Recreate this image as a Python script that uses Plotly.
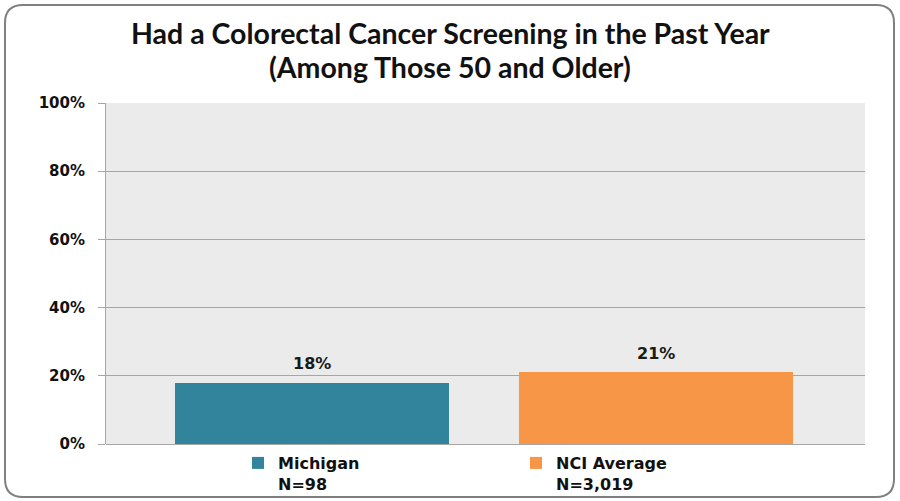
import plotly.graph_objects as go

# Survey results: share of respondents aged 50+ screened for colorectal cancer in the past year
groups = ["Michigan", "NCI Average"]
sample_sizes = ["N=98", "N=3,019"]
screened_share = [0.18, 0.21]
bar_colors = ["#31849B", "#F79646"]
y_ticks = [0, 0.2, 0.4, 0.6, 0.8, 1.0]
y_tick_labels = ["0%", "20%", "40%", "60%", "80%", "100%"]
title_lines = ["Had a Colorectal Cancer Screening in the Past Year",
               "(Among Those 50 and Older)"]

W, H = 900, 501
ML, MR, MT, MB = 106, 35, 103, 57
PW, PH = W - ML - MR, H - MT - MB


def px_x(p):
    return (p - ML) / PW


def px_y(p):
    return 1 - (p - MT) / PH


fig = go.Figure()
for i, (g, n, v, c) in enumerate(zip(groups, sample_sizes, screened_share, bar_colors)):
    fig.add_trace(go.Bar(
        x=[i], y=[v], width=0.797,
        name=f"{g}<br>{n}",
        marker=dict(color=c, line=dict(width=0)),
        hoverinfo="skip",
    ))
    fig.add_annotation(
        x=i, y=v, xref="x", yref="y",
        text=f"{v:.0%}", showarrow=False, yshift=19,
        font=dict(family="DejaVu Sans", size=16, color="#1a1a1a", weight="bold"),
    )

# two-line chart heading
for line, ypix in zip(title_lines, [33, 67]):
    fig.add_annotation(
        x=0.5 * (px_x(0) + px_x(W)), y=px_y(ypix), xref="paper", yref="paper",
        xanchor="center", yanchor="middle", showarrow=False, text=line,
        font=dict(family="Lato", size=28.5, color="#111111", weight="bold"),
    )

# rounded outer frame around the whole chart
x0, x1, y0, y1, r = 5, 894, 5, 497, 18
path = (
    f"M {px_x(x0 + r)} {px_y(y0)} L {px_x(x1 - r)} {px_y(y0)} "
    f"Q {px_x(x1)} {px_y(y0)} {px_x(x1)} {px_y(y0 + r)} "
    f"L {px_x(x1)} {px_y(y1 - r)} Q {px_x(x1)} {px_y(y1)} {px_x(x1 - r)} {px_y(y1)} "
    f"L {px_x(x0 + r)} {px_y(y1)} Q {px_x(x0)} {px_y(y1)} {px_x(x0)} {px_y(y1 - r)} "
    f"L {px_x(x0)} {px_y(y0 + r)} Q {px_x(x0)} {px_y(y0)} {px_x(x0 + r)} {px_y(y0)} Z"
)
fig.add_shape(type="path", path=path, xref="paper", yref="paper",
              line=dict(color="#808080", width=2), layer="above")

fig.update_layout(
    width=W, height=H,
    margin=dict(l=ML, r=MR, t=MT, b=MB, autoexpand=False),
    paper_bgcolor="white",
    plot_bgcolor="#EBEBEB",
    showlegend=True,
    legend=dict(
        orientation="h", x=px_x(238), xanchor="left", y=px_y(446), yanchor="top",
        entrywidth=233, entrywidthmode="pixels", valign="top",
        font=dict(family="DejaVu Sans", size=16, color="#111111", weight="bold"),
        bgcolor="rgba(0,0,0,0)", itemsizing="constant",
        traceorder="normal",
    ),
    xaxis=dict(
        range=[-0.599, 1.608], showticklabels=False, showgrid=False,
        zeroline=False, showline=False, fixedrange=True,
    ),
    yaxis=dict(
        range=[0, 1], tickvals=y_ticks, ticktext=y_tick_labels,
        showgrid=True, gridcolor="#A6A6A6", gridwidth=1,
        showline=True, linecolor="#A6A6A6", linewidth=1,
        ticks="outside", ticklen=7, tickcolor="#A6A6A6",
        ticklabelstandoff=10,
        zeroline=True, zerolinecolor="#A6A6A6", zerolinewidth=1,
        tickfont=dict(family="DejaVu Sans", size=15, color="#111111", weight="bold"),
        fixedrange=True,
    ),
    bargap=0,
)

fig.write_html("out.html")
